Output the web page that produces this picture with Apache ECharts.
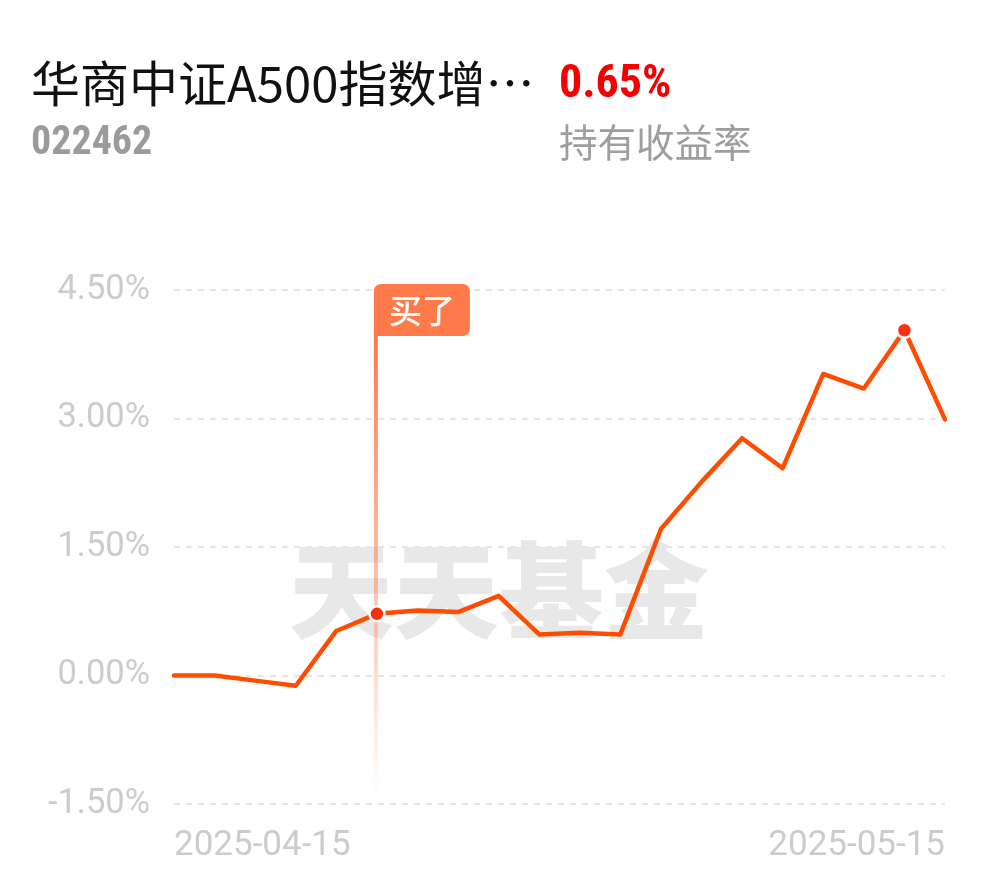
<!DOCTYPE html>
<html>
<head>
<meta charset="utf-8">
<script src="https://cdn.jsdelivr.net/npm/echarts@6/dist/echarts.min.js"></script>
<style>
html,body{margin:0;padding:0;background:#fff;}
#chart{width:990px;height:878px;}
</style>
</head>
<body>
<div id="chart"></div>
<script>
// ---- data ----
const fundName = '华商中证A500指数增…';
const fundCode = '022462';
const holdReturn = '0.65%';
const holdReturnLabel = '持有收益率';
const watermark = '天天基金';
const buyLabel = '买了';
const dates = ['2025-04-15','2025-04-16','2025-04-17','2025-04-18','2025-04-21','2025-04-22','2025-04-23','2025-04-24','2025-04-25','2025-04-28','2025-04-29','2025-04-30','2025-05-06','2025-05-07','2025-05-08','2025-05-09','2025-05-12','2025-05-13','2025-05-14','2025-05-15'];
const returns = [0.00, 0.00, -0.06, -0.12, 0.52, 0.72, 0.76, 0.74, 0.93, 0.48, 0.50, 0.48, 1.71, 2.26, 2.77, 2.42, 3.52, 3.35, 4.03, 2.99];
const yTicks = [-1.5, 0, 1.5, 3, 4.5];
const buyIndex = 5;
const peakIndex = 18;

const chart = echarts.init(document.getElementById('chart'), null, {renderer:'canvas'});

const dotStyle = {color:'#f5320f', borderColor:'#ffffff', borderWidth:2.5};
const seriesData = returns.map((v, i) => {
  if (i === buyIndex || i === peakIndex) {
    return {value: v, symbol: 'circle', symbolSize: 15, itemStyle: dotStyle};
  }
  return {value: v, symbol: 'none'};
});

const baseGraphics = [
  {type:'text', left:31, top:59, z:10, style:{text:fundName, font:'400 49px "Noto Sans CJK SC", sans-serif', fill:'#111'}},
  {type:'text', left:559, top:62, z:10, style:{text:holdReturn, font:'700 46px "Liberation Sans Narrow", "Roboto Condensed", Roboto, sans-serif', fill:'#f50000'}},
  {type:'text', left:31, top:124, z:10, style:{text:fundCode, font:'700 40px "Liberation Sans Narrow", "Roboto Condensed", Roboto, sans-serif', fill:'#9b9b9b'}},
  {type:'text', left:559, top:123, z:10, style:{text:holdReturnLabel, font:'400 38.5px "Noto Sans CJK SC", sans-serif', fill:'#9e9e9e'}}
];

chart.setOption({
  animation:false,
  backgroundColor:'#ffffff',
  grid:{left:174, right:45, top:290, bottom:74},
  xAxis:{
    type:'category',
    data:dates,
    boundaryGap:false,
    axisLine:{show:false},
    axisTick:{show:false},
    splitLine:{show:false},
    axisLabel:{
      interval:(idx) => idx === 0 || idx === dates.length - 1,
      alignMinLabel:'left',
      alignMaxLabel:'right',
      color:'#cccccc',
      fontSize:35,
      fontFamily:'Roboto, sans-serif',
      margin:25
    }
  },
  yAxis:{
    type:'value',
    min:yTicks[0],
    max:yTicks[yTicks.length-1],
    interval:1.5,
    axisLine:{show:false},
    axisTick:{show:false},
    axisLabel:{
      formatter:(v) => v.toFixed(2) + '%',
      color:'#cccccc',
      fontSize:34.5,
      fontFamily:'Roboto, sans-serif',
      margin:24
    },
    splitLine:{show:true, lineStyle:{color:'#e6e6e6', width:2, type:[6,6]}}
  },
  series:[{
    type:'line',
    data:seriesData,
    z:5,
    showAllSymbol:true,
    symbol:'none',
    lineStyle:{color:'#ff4c00', width:4.5, join:'round', cap:'round'},
    itemStyle:dotStyle
  }],
  graphic:baseGraphics
});

// buy marker + watermark positioned from the axes
const bx = chart.convertToPixel({xAxisIndex:0}, buyIndex);
const yTop = chart.convertToPixel({yAxisIndex:0}, yTicks[yTicks.length-1]);
const yBot = chart.convertToPixel({yAxisIndex:0}, yTicks[0]);
const wmX = chart.convertToPixel({xAxisIndex:0}, 8);
const wmY = chart.convertToPixel({yAxisIndex:0}, 1.0);
const boxTop = yTop - 6, boxH = 52, boxW = 96;

chart.setOption({
  graphic: baseGraphics.concat([
    {type:'text', x:wmX, y:wmY, z:0, silent:true,
     style:{text:watermark, font:'900 105px "Noto Sans CJK SC", serif', fill:'#e8e8e8', align:'center', verticalAlign:'middle'}},
    {type:'rect', z:2, silent:true,
     shape:{x:bx-3, y:boxTop+boxH-2, width:4, height:(yBot-7)-(boxTop+boxH-2)},
     style:{fill:new echarts.graphic.LinearGradient(0,0,0,1,[
       {offset:0, color:'rgba(255,122,75,1)'},
       {offset:0.55, color:'rgba(255,122,75,0.45)'},
       {offset:1, color:'rgba(255,122,75,0)'}
     ])}},
    {type:'rect', z:3, silent:true,
     shape:{x:bx-3, y:boxTop, width:boxW, height:boxH, r:[7,7,7,0]},
     style:{fill:'#ff7a4b'}},
    {type:'text', z:4, silent:true, x:bx-3+boxW/2, y:boxTop+boxH/2,
     style:{text:buyLabel, font:'500 33px "Noto Sans CJK SC", sans-serif', fill:'#ffffff', align:'center', verticalAlign:'middle'}}
  ])
});
</script>
</body>
</html>
